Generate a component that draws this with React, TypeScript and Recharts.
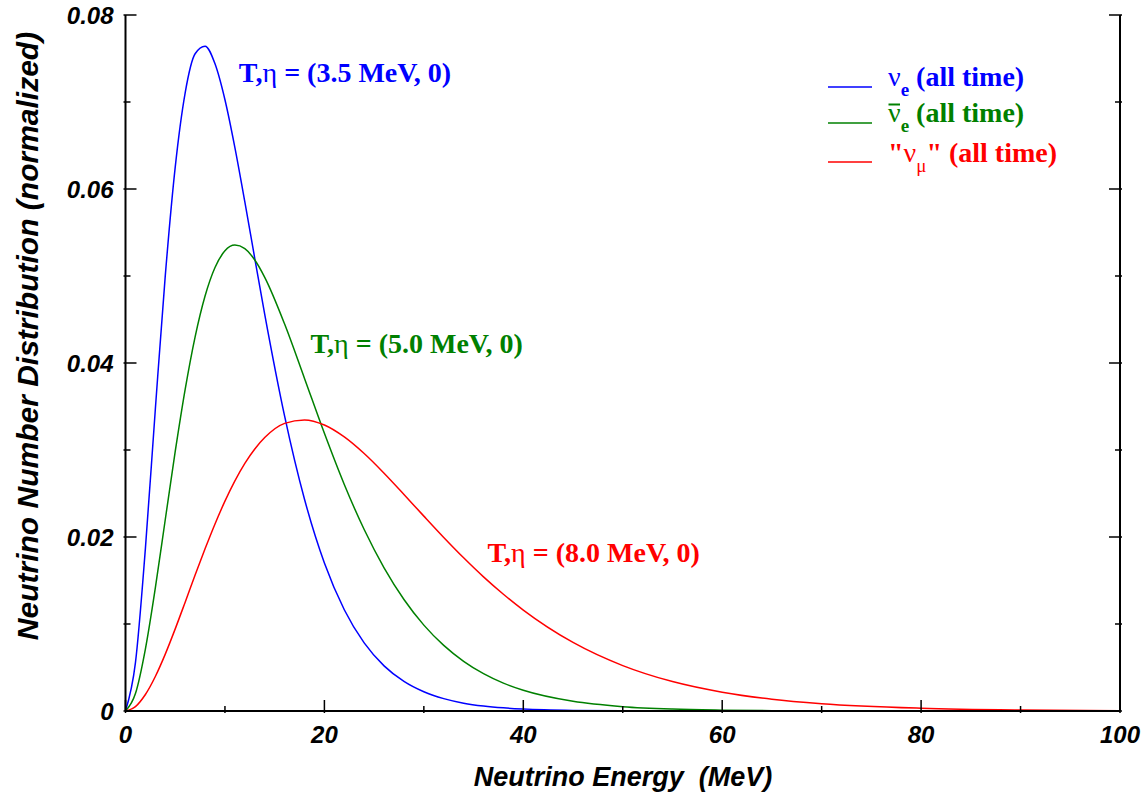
import { LineChart, Line, XAxis, YAxis, Legend, ReferenceDot } from 'recharts';

const energy = [0, 1, 2, 3, 4, 5, 6, 7, 8, 9, 10, 11, 12, 13, 14, 16, 18, 20, 22, 24, 26, 28, 30, 32, 34, 36, 38, 40, 45, 50, 55, 60, 65, 70, 80, 90, 100];
const nuE = [0, 0.00555, 0.01867, 0.03468, 0.05004, 0.06252, 0.07106, 0.07555, 0.07642, 0.07439, 0.07026, 0.06476, 0.05852, 0.05201, 0.0456, 0.0339, 0.02434, 0.01701, 0.01164, 0.00783, 0.00519, 0.0034, 0.00221, 0.00142, 0.0009, 0.00057, 0.00036, 0.00023, 0.00007, 0.00002, 0.00001, 0, 0, 0, 0, 0, 0];
const nuEBar = [0, 0.002, 0.00712, 0.01415, 0.02201, 0.02983, 0.03697, 0.04301, 0.0477, 0.05098, 0.05289, 0.05355, 0.05314, 0.05184, 0.04985, 0.04448, 0.03823, 0.03192, 0.02604, 0.02086, 0.01646, 0.01282, 0.00987, 0.00754, 0.00571, 0.00429, 0.0032, 0.00238, 0.00111, 0.0005, 0.00022, 0.0001, 0.00004, 0.00002, 0, 0, 0];
const nuMu = [0, 0.00051, 0.0019, 0.00397, 0.00654, 0.00944, 0.01251, 0.01562, 0.01864, 0.0215, 0.02412, 0.02645, 0.02846, 0.03012, 0.03143, 0.03306, 0.03346, 0.03287, 0.0315, 0.02959, 0.02733, 0.02489, 0.0224, 0.01995, 0.01761, 0.01542, 0.01342, 0.0116, 0.00788, 0.00522, 0.00338, 0.00216, 0.00135, 0.00084, 0.00032, 0.00011, 0.00004];

const xTicks = [0, 10, 20, 30, 40, 50, 60, 70, 80, 90, 100];
const xMajor = [0, 20, 40, 60, 80, 100];
const xMinor = [10, 30, 50, 70, 90];
const yTicks = [0, 0.01, 0.02, 0.03, 0.04, 0.05, 0.06, 0.07, 0.08];

const seriesColors = { nuE: '#0000ff', nuEBar: '#008000', nuMu: '#ff0000' };

// annotation: label pieces and where its baseline starts (energy, value)
const annotations = [
  { key: 'nuE', temp: '3.5', e: 11.4, v: 0.0723 },
  { key: 'nuEBar', temp: '5.0', e: 18.6, v: 0.0411 },
  { key: 'nuMu', temp: '8.0', e: 36.4, v: 0.0171 },
];

const data = energy.map((e, i) => ({ e, nuE: nuE[i], nuEBar: nuEBar[i], nuMu: nuMu[i] }));

const SANS = "'Liberation Sans', Arial, Helvetica, sans-serif";
const SERIF = "'Liberation Serif', 'Times New Roman', serif";

const isMajorX = (v: number) => v % 20 === 0;
const isMajorY = (v: number) => Math.round(v * 100) % 2 === 0;
const fmtY = (v: number) => (v === 0 ? '0' : v.toFixed(2));

const tickText = { fontFamily: SANS, fontWeight: 700, fontStyle: 'italic', fontSize: 24, fill: '#000' } as const;
const frame = { stroke: '#000', strokeWidth: 2 };
const tickStroke = { stroke: '#000', strokeWidth: 1.5 };

const BottomTick = (props: any) => {
  const { x, y, payload } = props;
  const major = isMajorX(payload.value);
  return (
    <g>
      <line x1={x} x2={x} y1={y} y2={y - (major ? 13 : 7)} {...tickStroke} />
      {major && (
        <text x={x} y={y + 21} textAnchor="middle" dominantBaseline="central" style={tickText}>
          {payload.value}
        </text>
      )}
    </g>
  );
};

const LeftTick = (props: any) => {
  const { x, y, payload } = props;
  const major = isMajorY(payload.value);
  return (
    <g>
      <line x1={x} x2={x + (major ? 13 : 7)} y1={y} y2={y} {...tickStroke} />
      {major && (
        <text x={x - 10} y={y} textAnchor="end" dominantBaseline="central" style={tickText}>
          {fmtY(payload.value)}
        </text>
      )}
    </g>
  );
};

const RightTick = (props: any) => {
  const { x, y, payload } = props;
  const major = isMajorY(payload.value);
  return <line x1={x} x2={x - (major ? 13 : 7)} y1={y} y2={y} {...tickStroke} />;
};

const legendRows = [
  { key: 'nuE', line: 32, base: 31 },
  { key: 'nuEBar', line: 68, base: 66.5 },
  { key: 'nuMu', line: 107, base: 106.5 },
];

const legendText = (key: string, base: number) => {
  const color = seriesColors[key as keyof typeof seriesColors];
  const common = { x: 68, y: base, fill: color, style: { fontFamily: SERIF, fontWeight: 700, fontSize: 28, whiteSpace: 'pre' as const } };
  if (key === 'nuMu')
    return (
      <text {...common}>
        "<tspan fontWeight={400}>ν</tspan>
        <tspan dy={10} fontSize={19} fontWeight={400}>μ</tspan>
        <tspan dy={-10}>" (all time)</tspan>
      </text>
    );
  return (
    <text {...common}>
      <tspan fontWeight={400}>ν</tspan>
      <tspan dy={10} fontSize={19}>e</tspan>
      <tspan dy={-10}> (all time)</tspan>
    </text>
  );
};

const LegendContent = () => (
  <svg width={250} height={130} style={{ overflow: 'visible' }}>
    {legendRows.map((r) => {
      const color = seriesColors[r.key as keyof typeof seriesColors];
      return (
        <g key={r.key}>
          <line x1={8} x2={52} y1={r.line} y2={r.line} stroke={color} strokeWidth={1.5} />
          {r.key === 'nuEBar' && <line x1={68.5} x2={80} y1={r.base - 17} y2={r.base - 17} stroke={color} strokeWidth={2} />}
          {legendText(r.key, r.base)}
        </g>
      );
    })}
  </svg>
);

export default function App() {
  return (
    <div style={{ position: 'absolute', left: 0, top: 0, width: 1146, height: 796, background: '#fff' }}>
      <LineChart width={1146} height={796} data={data} margin={{ top: 15, right: 25, left: 0, bottom: 0 }}>
        <XAxis
          dataKey="e"
          type="number"
          domain={[0, 100]}
          ticks={xTicks}
          height={85}
          tickSize={0}
          tickLine={false}
          axisLine={frame}
          tick={BottomTick}
          interval={0}
          allowDataOverflow
          label={{
            content: () => (
              <text x={623} y={777} textAnchor="middle" dominantBaseline="central" style={{ ...tickText, fontSize: 27, whiteSpace: 'pre' }}>
                Neutrino Energy  (MeV)
              </text>
            ),
          }}
        />
        {/* mirrored top frame: major and minor inward ticks */}
        <XAxis
          xAxisId="topMajor"
          dataKey="e"
          orientation="top"
          mirror
          type="number"
          domain={[0, 100]}
          ticks={xMajor}
          interval={0}
          height={0}
          tickSize={13}
          tickLine={tickStroke}
          tick={false}
          axisLine={frame}
          allowDataOverflow
        />
        <XAxis
          xAxisId="topMinor"
          dataKey="e"
          orientation="top"
          mirror
          type="number"
          domain={[0, 100]}
          ticks={xMinor}
          interval={0}
          height={0}
          tickSize={7}
          tickLine={tickStroke}
          tick={false}
          axisLine={false}
          allowDataOverflow
        />
        <YAxis
          type="number"
          domain={[0, 0.08]}
          ticks={yTicks}
          width={125.5}
          tickSize={0}
          tickLine={false}
          axisLine={frame}
          tick={LeftTick}
          interval={0}
          allowDataOverflow
          label={{
            content: () => (
              <text
                x={27}
                y={336}
                transform="rotate(-90, 27, 336)"
                textAnchor="middle"
                dominantBaseline="central"
                style={{ ...tickText, fontSize: 30 }}
              >
                Neutrino Number Distribution (normalized)
              </text>
            ),
          }}
        />
        <YAxis
          yAxisId="right"
          orientation="right"
          type="number"
          domain={[0, 0.08]}
          ticks={yTicks}
          width={1}
          tickSize={0}
          tickLine={false}
          axisLine={frame}
          tick={RightTick}
          interval={0}
          allowDataOverflow
        />
        <Legend
          layout="vertical"
          align="center"
          verticalAlign="middle"
          content={LegendContent}
          wrapperStyle={{ position: 'absolute', left: 820, top: 55, width: 250, height: 130 }}
        />
        {(['nuE', 'nuEBar', 'nuMu'] as const).map((k) => (
          <Line
            key={k}
            type="monotone"
            dataKey={k}
            stroke={seriesColors[k]}
            strokeWidth={1.5}
            dot={false}
            isAnimationActive={false}
          />
        ))}
        {/* invisible copies bound to the mirrored axes so they get laid out */}
        <Line xAxisId="topMajor" yAxisId="right" dataKey="nuE" stroke="none" dot={false} legendType="none" isAnimationActive={false} />
        <Line xAxisId="topMinor" yAxisId="right" dataKey="nuE" stroke="none" dot={false} legendType="none" isAnimationActive={false} />
        {annotations.map((a) => (
          <ReferenceDot
            key={a.key}
            x={a.e}
            y={a.v}
            r={0}
            ifOverflow="visible"
            shape={(p: any) => (
              <text
                x={p.cx}
                y={p.cy}
                fill={seriesColors[a.key as keyof typeof seriesColors]}
                style={{ fontFamily: SERIF, fontWeight: 700, fontSize: 28, whiteSpace: 'pre' }}
              >
                T,<tspan fontWeight={400}>η</tspan> = ({a.temp} MeV, 0)
              </text>
            )}
          />
        ))}
      </LineChart>
    </div>
  );
}
